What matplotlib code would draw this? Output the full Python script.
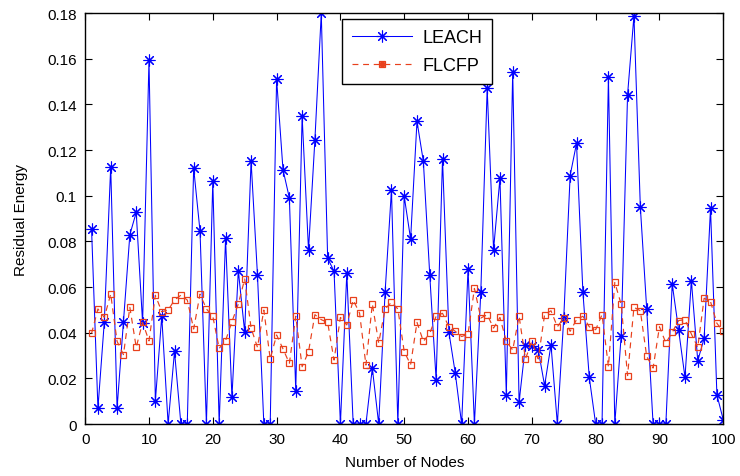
import numpy as np
import matplotlib
matplotlib.use('Agg')
import matplotlib.pyplot as plt
from matplotlib.lines import Line2D
from matplotlib.legend_handler import HandlerTuple

plt.rcParams['font.family'] = ['Liberation Sans', 'DejaVu Sans']

nodes = np.arange(1, 101)

leach = [0.0854, 0.0069, 0.0448, 0.1127, 0.0069, 0.0448, 0.0829, 0.0927, 0.0442, 0.1594,
         0.0101, 0.0472, 0.0, 0.0318, 0.0, 0.0, 0.1121, 0.0844, 0.0, 0.1063,
         0.0, 0.0813, 0.0117, 0.0672, 0.0402, 0.1152, 0.0653, 0.0, 0.0, 0.1511,
         0.1114, 0.0990, 0.0146, 0.1348, 0.0762, 0.1244, 0.1799, 0.0726, 0.0669, 0.0,
         0.0661, 0.0, 0.0, 0.0, 0.0245, 0.0, 0.0577, 0.1025, 0.0, 0.0997,
         0.0810, 0.1326, 0.1150, 0.0653, 0.0193, 0.1161, 0.0402, 0.0223, 0.0, 0.0679,
         0.0, 0.0577, 0.1470, 0.0764, 0.1076, 0.0127, 0.1543, 0.0095, 0.0347, 0.0343,
         0.0326, 0.0168, 0.0347, 0.0, 0.0464, 0.1088, 0.1229, 0.0577, 0.0204, 0.0,
         0.0, 0.1521, 0.0, 0.0387, 0.1442, 0.1788, 0.0952, 0.0504, 0.0, 0.0,
         0.0, 0.0613, 0.0412, 0.0204, 0.0628, 0.0277, 0.0375, 0.0945, 0.0128, 0.0018]

flcfp = [0.0397, 0.0504, 0.0467, 0.0569, 0.0362, 0.0304, 0.0511, 0.0336, 0.0445, 0.0364,
         0.0564, 0.0492, 0.0499, 0.0543, 0.0564, 0.0543, 0.0416, 0.0569, 0.0504, 0.0472,
         0.0331, 0.0365, 0.0448, 0.0526, 0.0635, 0.0420, 0.0336, 0.0499, 0.0285, 0.0390,
         0.0329, 0.0266, 0.0472, 0.0251, 0.0317, 0.0479, 0.0457, 0.0445, 0.0280, 0.0467,
         0.0434, 0.0543, 0.0486, 0.0258, 0.0526, 0.0355, 0.0504, 0.0533, 0.0504, 0.0317,
         0.0260, 0.0445, 0.0362, 0.0397, 0.0472, 0.0485, 0.0426, 0.0406, 0.0383, 0.0394,
         0.0594, 0.0464, 0.0479, 0.0420, 0.0467, 0.0362, 0.0324, 0.0472, 0.0285, 0.0362,
         0.0285, 0.0479, 0.0496, 0.0426, 0.0464, 0.0406, 0.0457, 0.0472, 0.0426, 0.0413,
         0.0479, 0.0251, 0.0620, 0.0524, 0.0212, 0.0511, 0.0496, 0.0296, 0.0245, 0.0426,
         0.0355, 0.0402, 0.0453, 0.0457, 0.0394, 0.0336, 0.0551, 0.0536, 0.0441, 0.0406]

blue = '#0000FF'
red = '#E8401C'
asterisk = (8, 2, 0)  # matlab-like '*'

fig = plt.figure(figsize=(7.4, 4.77), dpi=100)
ax = fig.add_axes([0.1151, 0.109, 0.8623, 0.8616])

ax.plot(nodes, leach, '-', color=blue, lw=0.75, marker=asterisk, ms=8.5, mew=0.8,
        mec=blue)
ax.plot(nodes, flcfp, '--', color=red, lw=0.85, dashes=(5, 4), marker='s', ms=5,
        mew=0.9, mfc='none', mec=red)

ax.set_xlim(0, 100)
ax.set_ylim(0, 0.18)
ax.set_xticks(np.arange(0, 101, 10))
ax.set_yticks(np.arange(0, 0.181, 0.02))
ax.set_yticklabels(['0', '0.02', '0.04', '0.06', '0.08', '0.1', '0.12', '0.14', '0.16', '0.18'])
ax.tick_params(direction='in', top=True, right=True, labelsize=11, length=5, width=0.8,
               pad=6)
for s in ax.spines.values():
    s.set_linewidth(1.0)
ax.set_xlabel('Number of Nodes', fontsize=11, labelpad=6)
ax.set_ylabel('Residual Energy', fontsize=11, labelpad=14)

h1 = Line2D([], [], color=blue, lw=0.75, marker=asterisk, ms=8.5, mew=0.8, mec=blue)
h2a = Line2D([], [], color=red, lw=0.85, ls='--', dashes=(5, 4), marker='s', ms=5,
             mew=0.9, mfc='none', mec=red)
h2b = Line2D([], [], ls='none', marker='o', ms=3.5, color=red)
leg = ax.legend([h1, (h2a, h2b)], ['LEACH', 'FLCFP'],
                handler_map={tuple: HandlerTuple(ndivide=1, pad=0)},
                loc='upper left', bbox_to_anchor=(0.403, 0.985), borderaxespad=0,
                fontsize=13, fancybox=False, edgecolor='black', framealpha=1,
                handlelength=3.3, borderpad=0.55, labelspacing=0.6, handletextpad=0.6)
leg.get_frame().set_linewidth(1.0)

fig.savefig('out.png', dpi=100)
